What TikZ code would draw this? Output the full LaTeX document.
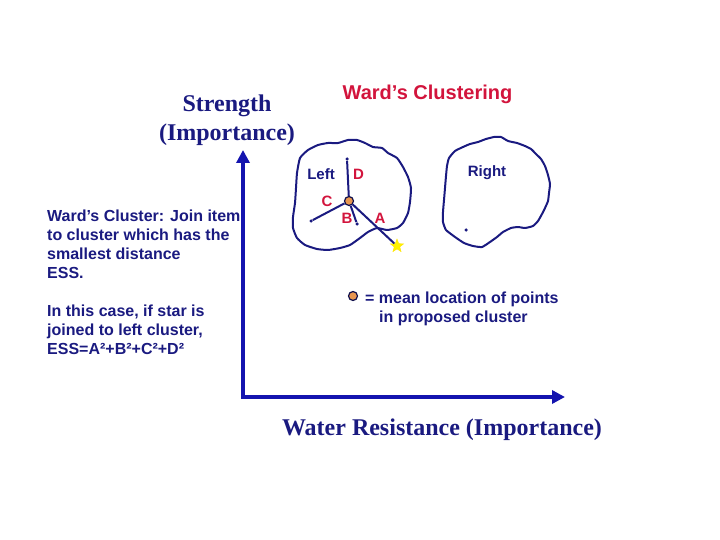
\documentclass[tikz,border=0pt]{standalone}
\usepackage{fontspec}
\setmainfont{Liberation Serif}
\setsansfont{Liberation Sans}
\usetikzlibrary{arrows.meta, positioning, shapes.geometric}

\definecolor{navy}{RGB}{26,26,128}
\definecolor{axisblue}{RGB}{20,20,175}
\definecolor{wardred}{RGB}{210,20,60}
\definecolor{meanorange}{RGB}{232,150,80}

\begin{document}
\begin{tikzpicture}[
    x=1pt, y=-1pt,
    axis/.style={draw=axisblue, line width=4.5pt, {Triangle[length=13pt, width=13pt]}-{Triangle[length=13pt, width=13pt]}},
    blob/.style={draw=navy, line width=2pt, line join=round},
    arm/.style={draw=navy, line width=2pt},
    pt/.style={circle, fill=navy, minimum size=3.5pt, inner sep=0pt},
    mean/.style={circle, draw=navy!60!black, fill=meanorange, line width=1.2pt, minimum size=9pt, inner sep=0pt},
    note/.style={font=\sffamily\bfseries\fontsize{16}{19}\selectfont, text=navy, align=left, inner sep=0pt},
    clname/.style={font=\sffamily\bfseries\fontsize{15}{18}\selectfont, text=navy, inner sep=0pt},
    tag/.style={font=\sffamily\bfseries\fontsize{15}{18}\selectfont, text=wardred, inner sep=0pt},
    head/.style={font=\bfseries\fontsize{24}{29}\selectfont, text=navy, align=center, inner sep=0pt}
]
  \useasboundingbox (0,0) rectangle (720,540);

  % Axes
  \coordinate (origin) at (243,397);
  \coordinate (ytip) at (243,150);
  \coordinate (xtip) at (565,397);
  \draw[axis] (ytip) -- (origin) -- (xtip);

  \node[head] (ylabel) at (227,120) {Strength\\(Importance)};
  \node[head, anchor=base] (xlabel) at (442,435) {Water Resistance (Importance)};
  \node[font=\sffamily\bfseries\fontsize{20}{24}\selectfont, text=wardred, anchor=base, inner sep=0pt] (title) at (427.5,100) {Ward’s Clustering};

  % Left cluster outline (hand drawn)
  \draw[blob] plot[smooth cycle, tension=0.3] coordinates {
    (300,158) (308,150) (318,145) (328,143) (338,143) (348,140) (357,140)
    (365,143) (373,147) (382,148) (388,153) (397,158) (403,167) (408,177)
    (411,188) (410,202) (408,213) (403,223) (397,228) (387,230) (377,228)
    (368,232) (360,238) (350,245) (340,248) (328,250) (317,249) (305,245)
    (297,238) (293,228) (293,217) (295,203) (296,188) (297,173)};

  % Right cluster outline (hand drawn)
  \draw[blob] plot[smooth cycle, tension=0.3] coordinates {
    (449,158) (455,151) (463,147) (470,144) (478,142) (486,139) (494,137)
    (501,137) (508,141) (517,143) (525,146) (531,149) (536,154) (541,159)
    (545,166) (548,175) (550,184) (549,193) (548,201) (545,208) (542,214)
    (538,221) (533,226) (525,228) (518,227) (511,228) (503,232) (497,237)
    (490,242) (482,247) (473,246) (464,243) (455,237) (446,230) (443,222)
    (443,212) (444,200) (445,188) (446,176) (447,166)};

  % Points and the mean of the proposed cluster
  \node[pt] (ptD) at (347,159) {};
  \node[pt] (ptC) at (311,221) {};
  \node[pt] (ptB) at (357,224) {};
  \node[pt] (ptR) at (466,230) {};
  \node[star, star points=5, star point ratio=2.4, fill=yellow, draw=yellow!85!orange, minimum size=14pt, inner sep=0pt] (item) at (397,246) {};
  \node[mean] (mean) at (349,201) {};

  \draw[arm] (mean) -- (ptD);
  \draw[arm] (mean) -- (ptC);
  \draw[arm] (mean) -- (ptB);
  \draw[arm] (mean) -- (item);

  % Distance labels
  \node[tag, anchor=base] (labD) at (358.5,180) {D};
  \node[tag, anchor=base] (labC) at (327,207) {C};
  \node[tag, anchor=base] (labB) at (347,223) {B};
  \node[tag, anchor=base] (labA) at (380,223) {A};

  \node[clname, anchor=base] (left) at (321,180) {Left};
  \node[clname, anchor=base] (right) at (487,177) {Right};

  % Legend
  \node[mean] (key) at (353,296) {};
  \node[note, anchor=north west] (keytext) at (365,291.5) {= mean location of points\\\hspace*{14pt}in proposed cluster};

  % Explanation on the left
  \node[note, anchor=north west] (rule) at (47,209.5) {Ward’s Cluster: Join item\\to cluster which has the\\smallest distance\\ESS.};
  \node[note, anchor=north west] (case) at (47,304.5) {In this case, if star is\\joined to left cluster,\\ESS=A²+B²+C²+D²};

\end{tikzpicture}
\end{document}
